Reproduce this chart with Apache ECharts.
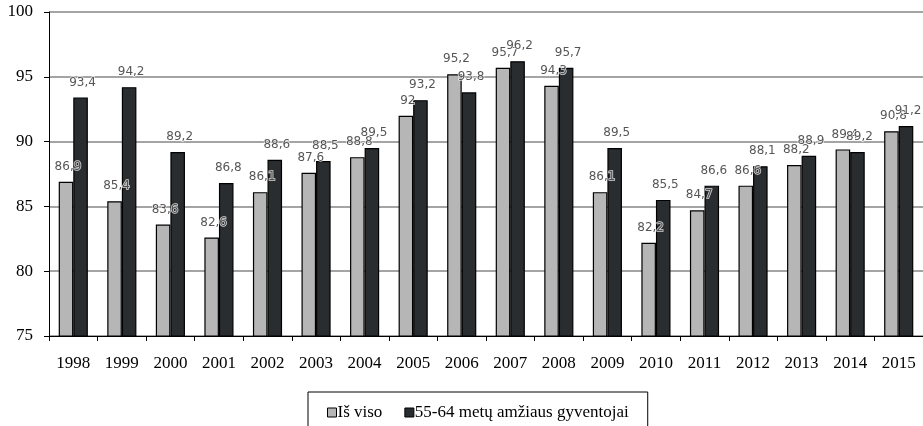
<!DOCTYPE html>
<html>
<head>
<meta charset="utf-8">
<script src="https://cdn.jsdelivr.net/npm/echarts@6/dist/echarts.min.js"></script>
<style>
html,body{margin:0;padding:0;background:#fff;}
#chart{width:923px;height:426px;}
</style>
</head>
<body>
<div id="chart"></div>
<script>
const categories = ['1998','1999','2000','2001','2002','2003','2004','2005','2006','2007','2008','2009','2010','2011','2012','2013','2014','2015'];
const seriesNames = ['Iš viso', '55-64 metų amžiaus gyventojai'];
const totalValues = [86.9, 85.4, 83.6, 82.6, 86.1, 87.6, 88.8, 92, 95.2, 95.7, 94.3, 86.1, 82.2, 84.7, 86.6, 88.2, 89.4, 90.8];
const olderValues = [93.4, 94.2, 89.2, 86.8, 88.6, 88.5, 89.5, 93.2, 93.8, 96.2, 95.7, 89.5, 85.5, 86.6, 88.1, 88.9, 89.2, 91.2];
const yTicks = [75, 80, 85, 90, 95, 100];

const chart = echarts.init(document.getElementById('chart'), null, {renderer: 'canvas'});
const serif = '"Liberation Serif", "DejaVu Serif", serif';
const fmt = v => String(v).replace('.', ',');
const labelText = {
  fontFamily: '"DejaVu Sans", sans-serif',
  fontSize: 12,
  color: '#2a2a2a',
  textBorderColor: '#ffffff',
  textBorderWidth: 1.5
};
// half of a bar width in px, used to place the labels over each bar
const halfBar = 7.3;
chart.setOption({
  animation: false,
  grid: {left: 49, top: 12, width: 880, height: 324, containLabel: false},
  legend: {
    data: seriesNames,
    left: 308,
    top: 392,
    padding: [12, 19, 20, 19],
    borderColor: '#000',
    borderWidth: 1,
    itemWidth: 9,
    itemHeight: 9,
    itemGap: 22,
    icon: 'rect',
    textStyle: {fontFamily: serif, fontSize: 17, color: '#000', padding: [0,0,0,-4]},
    itemStyle: {borderColor: '#000', borderWidth: 1}
  },
  xAxis: {
    type: 'category',
    data: categories,
    axisLine: {lineStyle: {color: '#000', width: 1}},
    axisTick: {show: true, length: 5, lineStyle: {color: '#000'}},
    axisLabel: {fontFamily: serif, fontSize: 17, color: '#000', margin: 19}
  },
  yAxis: {
    type: 'value',
    min: yTicks[0],
    max: yTicks[yTicks.length - 1],
    interval: 5,
    axisLine: {show: true, lineStyle: {color: '#000', width: 1}},
    axisTick: {show: true, length: 5, lineStyle: {color: '#000'}},
    axisLabel: {fontFamily: serif, fontSize: 17, color: '#000', margin: 16},
    splitLine: {lineStyle: {color: '#868686', width: 1.5}}
  },
  series: [
    {
      name: seriesNames[0],
      type: 'bar',
      data: totalValues,
      barGap: '0%',
      barCategoryGap: '40%',
      itemStyle: {color: '#b6b6b6', borderColor: '#000', borderWidth: 1.2}
    },
    {
      name: seriesNames[1],
      type: 'bar',
      data: olderValues,
      barGap: '0%',
      barCategoryGap: '40%',
      itemStyle: {color: '#2a2d30', borderColor: '#000', borderWidth: 1.2}
    },
    {
      name: 'lbl0',
      type: 'scatter',
      z: 10,
      silent: true,
      symbolSize: 0,
      data: totalValues,
      label: Object.assign({show: true, position: 'top', distance: 9, offset: [-halfBar + 2, 0], formatter: p => fmt(p.value)}, labelText)
    },
    {
      name: 'lbl1',
      type: 'scatter',
      z: 10,
      silent: true,
      symbolSize: 0,
      data: olderValues,
      label: Object.assign({show: true, position: 'top', distance: 9, offset: [halfBar + 2, 0], formatter: p => fmt(p.value)}, labelText)
    }
  ]
});
</script>
</body>
</html>
